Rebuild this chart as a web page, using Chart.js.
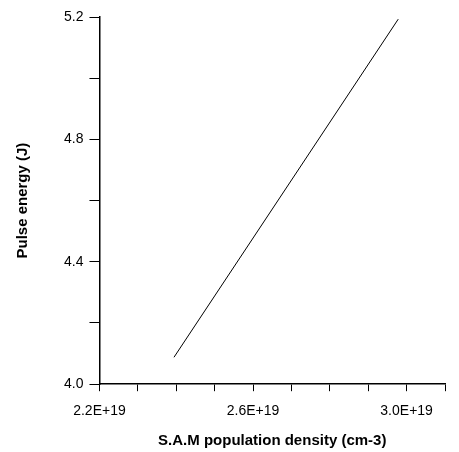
<!DOCTYPE html>
<html>
<head>
<meta charset="utf-8">
<script src="https://cdn.jsdelivr.net/npm/chart.js@4"></script>
<style>
body { margin: 0; background: #fff; }
#wrap { width: 459px; height: 452px; }
</style>
</head>
<body>
<div id="wrap"><canvas id="c" width="459" height="452"></canvas></div>
<script>
// dados
const densidade = [2.404e19, 3.018e19];
const energia = [4.088, 5.193];
const xMin = 2.2e19, xMax = 3.146e19;
const yMin = 4.0, yMax = 5.2;

const pontos = densidade.map((x, i) => ({ x: x, y: energia[i] }));

new Chart(document.getElementById('c'), {
    type: 'line',
    data: {
        datasets: [{
            data: pontos,
            borderColor: '#000',
            borderWidth: 1,
            pointRadius: 0,
            tension: 0
        }]
    },
    options: {
        responsive: false,
        animation: false,
        layout: { padding: { top: 17, right: 14, left: 10, bottom: 0 } },
        plugins: { legend: { display: false }, tooltip: { enabled: false } },
        scales: {
            x: {
                type: 'linear',
                min: xMin, max: xMax,
                ticks: {
                    stepSize: 1e18,
                    color: '#000',
                    padding: 12,
                    font: { family: 'Liberation Sans', size: 14 },
                    maxRotation: 0,
                    autoSkip: false,
                    callback: function(v) {
                        const k = Math.round(v / 1e18);
                        if ((k - 22) % 4 !== 0) return '';
                        return (k / 10).toFixed(1) + 'E+19';
                    }
                },
                grid: { drawOnChartArea: false, color: '#000', tickLength: 7 },
                border: { color: '#000', width: 1.5 },
                title: {
                    display: true, text: 'S.A.M population density (cm-3)',
                    color: '#000', font: { family: 'Liberation Sans', size: 15, weight: 'bold' },
                    padding: { top: 0, bottom: 2 }
                }
            },
            y: {
                min: yMin, max: yMax,
                ticks: {
                    stepSize: 0.2,
                    color: '#000',
                    padding: 6,
                    font: { family: 'Liberation Sans', size: 14 },
                    callback: function(v) {
                        const k = Math.round(v * 10);
                        return k % 4 === 0 ? (k / 10).toFixed(1) : '';
                    }
                },
                grid: { drawOnChartArea: false, color: '#000', tickLength: 10 },
                border: { color: '#000', width: 1.5 },
                title: {
                    display: true, text: 'Pulse energy (J)',
                    color: '#000', font: { family: 'Liberation Sans', size: 15, weight: 'bold' },
                    padding: { bottom: 26 }
                }
            }
        }
    }
});
</script>
</body>
</html>
